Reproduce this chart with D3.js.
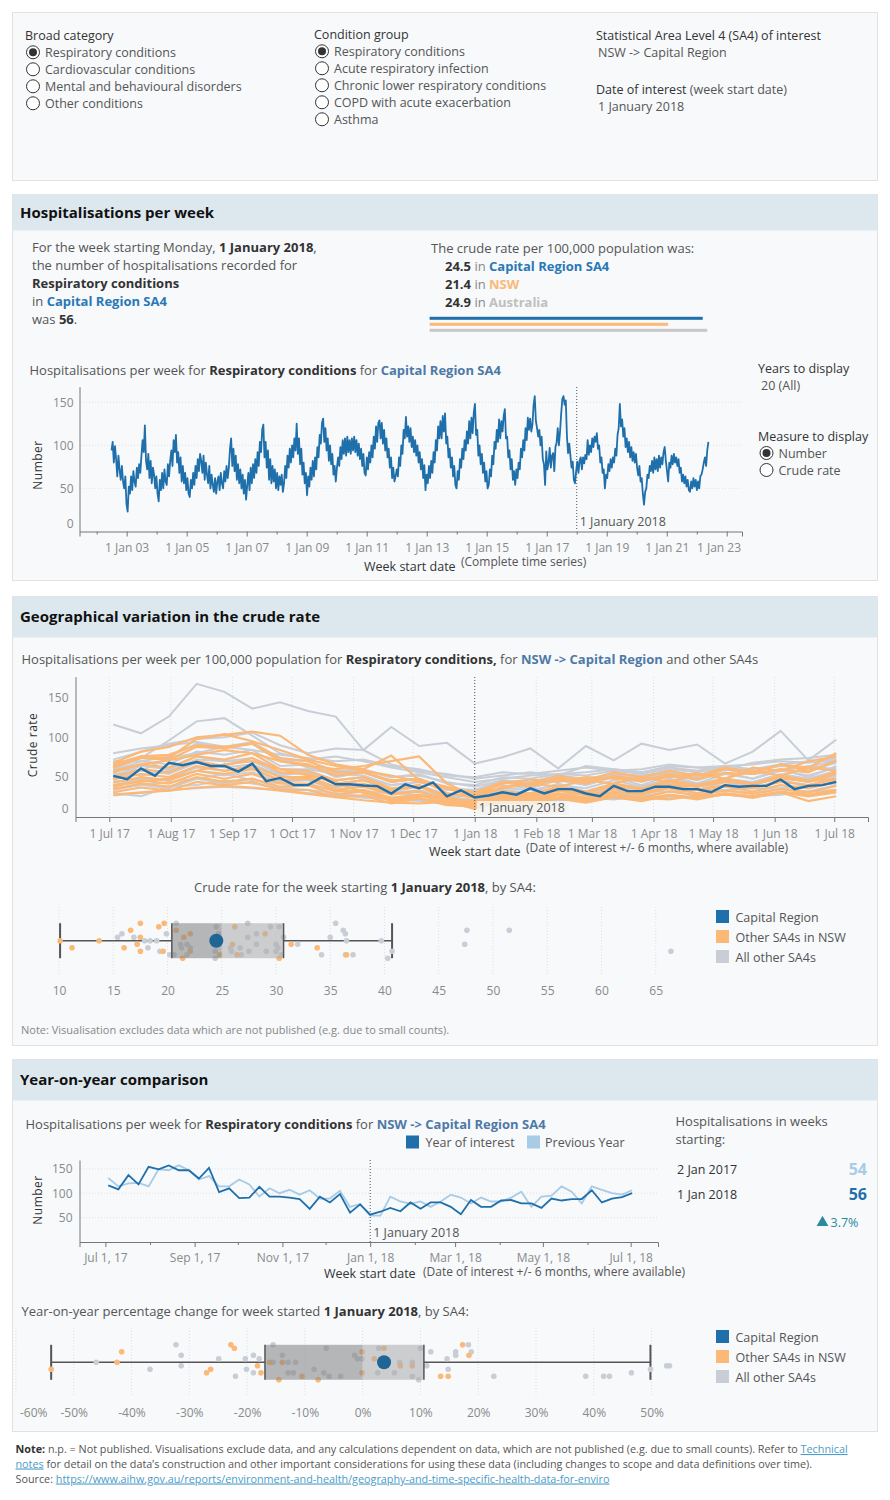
<!DOCTYPE html>
<html>
<head>
<meta charset="utf-8">
<script src="https://d3js.org/d3.v7.min.js"></script>
<style>
  body { margin: 0; background: #fff; }
  svg { display: block; font-family: "Open Sans", Lato, sans-serif; }
</style>
</head>
<body>
<div id="dash"></div>
<script>
// ---------- data ----------
var broadCategories = ["Respiratory conditions", "Cardiovascular conditions", "Mental and behavioural disorders", "Other conditions"];
var conditionGroups = ["Respiratory conditions", "Acute respiratory infection", "Chronic lower respiratory conditions", "COPD with acute exacerbation", "Asthma"];
var measureOptions = ["Number", "Crude rate"];

var crudeRateAreas = ["Capital Region SA4", "NSW", "Australia"];
var crudeRateValues = [24.5, 21.4, 24.9];

// hospitalisations, Capital Region SA4, one value per fortnight from 1 Jul 2002 (one row = Jul..Jun)
var hospStart = new Date(2002, 6, 1);
var hospFortnightly = [
  94, 104, 80, 99, 84, 64, 88, 72, 60, 76, 58, 50, 64, 32, 23, 52, 44, 64, 48, 70, 58, 52, 74, 62, 78, 68,
  88, 106, 92, 123, 82, 72, 90, 62, 82, 56, 74, 66, 50, 64, 44, 35, 60, 48, 68, 50, 72, 58, 54, 78, 64, 82,
  94, 76, 106, 92, 112, 80, 92, 68, 86, 58, 76, 56, 68, 48, 62, 44, 40, 60, 50, 68, 54, 76, 62, 84, 70, 90,
  82, 68, 88, 60, 80, 66, 56, 76, 50, 66, 54, 46, 62, 44, 58, 64, 48, 68, 56, 50, 70, 58, 76, 62, 74, 96,
  108, 76, 96, 70, 88, 60, 78, 56, 72, 50, 66, 44, 60, 37, 54, 68, 48, 74, 56, 78, 62, 84, 68, 92, 76, 104,
  92, 118, 124, 86, 104, 74, 94, 60, 84, 56, 76, 58, 72, 50, 68, 48, 64, 54, 66, 46, 56, 76, 62, 88, 74, 96,
  80, 100, 86, 108, 94, 125, 90, 108, 78, 96, 66, 80, 56, 68, 42, 64, 52, 74, 60, 82, 64, 86, 72, 98, 86, 112,
  102, 126, 131, 104, 120, 94, 108, 82, 100, 78, 90, 66, 76, 58, 74, 86, 76, 98, 84, 106, 90, 108, 88, 110, 92, 106,
  90, 108, 94, 110, 92, 106, 88, 102, 84, 96, 76, 90, 68, 65, 86, 72, 92, 80, 100, 86, 110, 96, 122, 104, 126, 129,
  108, 126, 102, 118, 94, 108, 86, 96, 74, 86, 62, 74, 58, 64, 72, 64, 86, 76, 100, 90, 118, 108, 133, 110, 122, 104,
  120, 98, 110, 92, 106, 88, 100, 80, 92, 72, 84, 62, 77, 48, 66, 56, 76, 62, 82, 68, 92, 80, 106, 94, 122, 108,
  128, 108, 134, 116, 137, 102, 110, 86, 96, 74, 86, 64, 76, 54, 50, 70, 60, 84, 74, 96, 84, 106, 94, 116, 102, 128,
  108, 132, 114, 138, 148, 112, 118, 88, 100, 78, 90, 68, 80, 58, 70, 50, 54, 72, 64, 88, 78, 104, 96, 118, 104, 130,
  108, 128, 116, 134, 142, 108, 110, 86, 94, 72, 84, 60, 70, 54, 72, 62, 80, 72, 96, 86, 106, 94, 120, 106, 132, 118,
  131, 116, 124, 147, 157, 128, 120, 110, 118, 100, 110, 84, 78, 54, 93, 72, 80, 97, 74, 88, 91, 70, 98, 103, 120, 100,
  116, 137, 154, 157, 147, 152, 110, 91, 102, 88, 74, 81, 60, 56, 70, 81, 68, 82, 86, 72, 86, 79, 89, 84, 106, 89,
  100, 92, 108, 98, 110, 104, 114, 96, 100, 80, 86, 68, 72, 50, 66, 62, 78, 70, 84, 74, 86, 80, 96, 88, 112, 120,
  148, 122, 130, 110, 120, 98, 108, 92, 104, 86, 98, 82, 92, 80, 90, 74, 65, 76, 58, 62, 44, 31, 46, 50, 66, 62,
  76, 70, 82, 68, 86, 72, 84, 70, 88, 74, 86, 78, 92, 98, 82, 70, 58, 80, 74, 88, 78, 90, 80, 86, 76, 84,
  68, 74, 58, 66, 56, 64, 52, 60, 48, 46, 58, 50, 62, 52, 60, 48, 58, 50, 64, 66, 72, 80, 86, 76, 94, 104
];

// crude rate, Capital Region, weekly from 3 Jul 2017
var weekStart = new Date(2017, 6, 3);
var capitalRates = [51.6, 47.5, 61, 51.6, 68, 65, 69, 64, 64, 57, 67, 45, 49, 40, 40, 50, 41, 41, 39.6, 38.8,
  29.5, 41, 36, 43.5, 26, 33.5, 24.5, 27, 31, 28, 36, 29.5, 35, 35, 29.5, 26, 39, 32.5, 32.5, 38,
  38, 35, 35, 31, 40, 38, 39, 39, 47, 35, 39, 40, 44];

// crude rate of the other SA4s, fortnightly from 3 Jul 2017
var otherSa4Rates = [
  [116, 105, 126, 167, 157, 136, 144, 133, 126, 84, 113, 89, 93, 67, 75, 86, 61, 89, 71, 92, 84, 91, 67, 82, 108, 71, 97],
  [60, 74, 96, 120, 124, 102, 80, 72, 76, 70, 62, 56, 50, 44, 48, 52, 54, 56, 60, 56, 62, 58, 64, 66, 70, 68, 72],
  [72, 82, 92, 98, 100, 106, 90, 80, 86, 84, 66, 58, 54, 48, 52, 56, 52, 64, 60, 56, 64, 62, 60, 68, 72, 74, 78],
  [70, 70, 76, 92, 88, 92, 72, 70, 58, 60, 50, 54, 42, 40, 50, 48, 54, 52, 58, 54, 60, 56, 62, 58, 64, 62, 72],
  [58, 70, 66, 82, 78, 84, 64, 66, 50, 56, 44, 48, 36, 34, 46, 40, 50, 44, 54, 48, 56, 52, 60, 54, 66, 58, 68],
  [48, 58, 54, 68, 62, 66, 52, 56, 42, 46, 34, 40, 28, 28, 36, 34, 40, 36, 46, 38, 48, 42, 48, 44, 54, 48, 58],
  [40, 48, 46, 58, 52, 56, 44, 46, 34, 40, 30, 34, 24, 22, 32, 26, 36, 30, 36, 32, 40, 34, 44, 36, 46, 40, 50],
  [34, 40, 36, 48, 42, 48, 36, 40, 28, 34, 24, 28, 18, 18, 24, 22, 28, 24, 30, 26, 32, 28, 34, 30, 36, 32, 40],
  [27, 30, 34, 36, 38, 36, 34, 30, 28, 24, 22, 20, 18, 12, 18, 20, 22, 20, 24, 22, 26, 24, 28, 26, 30, 28, 32],
  [62, 58, 74, 80, 88, 94, 74, 62, 56, 58, 50, 52, 44, 38, 46, 44, 52, 48, 54, 52, 56, 50, 60, 54, 58, 64, 60],
  [52, 64, 60, 76, 70, 74, 60, 60, 54, 52, 40, 44, 36, 30, 44, 38, 50, 42, 52, 44, 54, 46, 56, 48, 58, 52, 62],
  [45, 46, 48, 62, 58, 62, 46, 50, 36, 48, 32, 38, 26, 26, 34, 30, 42, 32, 42, 36, 42, 38, 44, 40, 50, 44, 52],
  [36, 40, 44, 48, 54, 46, 42, 40, 34, 32, 30, 28, 26, 20, 26, 28, 28, 30, 30, 32, 32, 34, 34, 36, 36, 40, 42],
  [80, 86, 90, 94, 88, 84, 78, 74, 70, 72, 64, 60, 52, 50, 56, 54, 58, 62, 58, 60, 66, 62, 64, 60, 66, 70, 74],
  [30, 26, 38, 40, 46, 42, 36, 34, 30, 26, 24, 22, 20, 16, 18, 22, 20, 24, 22, 26, 24, 26, 28, 26, 28, 32, 34],
  [55, 52, 58, 72, 70, 70, 54, 58, 46, 50, 40, 44, 34, 34, 40, 36, 46, 40, 50, 40, 52, 42, 54, 48, 60, 50, 64]
];
var otherNswRates = [
  [68, 82, 88, 100, 103, 107, 102, 78, 66, 60, 77, 46, 38, 28, 42, 47, 44, 50, 48, 45, 54, 47, 60, 56, 66, 62, 80],
  [66, 76, 74, 98, 104, 95, 84, 72, 64, 58, 52, 44, 36, 24, 44, 38, 49, 42, 52, 46, 50, 55, 48, 62, 58, 70, 76],
  [62, 74, 72, 88, 86, 92, 70, 66, 52, 56, 44, 48, 30, 24, 36, 42, 38, 46, 42, 50, 44, 54, 48, 58, 52, 62, 58],
  [56, 66, 62, 76, 72, 80, 60, 58, 46, 50, 36, 40, 26, 16, 32, 28, 38, 32, 42, 36, 46, 40, 48, 42, 52, 46, 56],
  [50, 60, 56, 70, 64, 74, 56, 54, 42, 46, 34, 38, 24, 13, 30, 26, 34, 30, 40, 34, 44, 38, 46, 40, 50, 44, 54],
  [47, 54, 50, 64, 58, 64, 50, 50, 38, 42, 30, 32, 22, 20, 28, 24, 33, 27, 35, 30, 38, 34, 40, 36, 44, 40, 47],
  [43, 50, 46, 58, 54, 60, 46, 48, 34, 38, 28, 32, 20, 10, 26, 22, 30, 24, 32, 28, 36, 30, 38, 32, 40, 36, 44],
  [38, 46, 42, 54, 48, 54, 42, 42, 32, 34, 24, 28, 18, 15, 24, 20, 27, 22, 29, 24, 32, 27, 33, 29, 35, 31, 39],
  [35, 42, 38, 50, 44, 48, 38, 40, 28, 32, 20, 24, 16, 12, 22, 18, 24, 20, 26, 22, 28, 24, 30, 26, 32, 28, 34],
  [31, 37, 33, 44, 40, 44, 34, 34, 25, 27, 17, 23, 15, 14, 19, 16, 23, 18, 25, 20, 27, 22, 29, 24, 31, 26, 31],
  [28, 31, 33, 37, 39, 37, 33, 29, 25, 21, 18, 17, 19, 21, 22, 20, 24, 22, 26, 24, 22, 27, 28, 26, 31, 20, 26],
  [64, 76, 78, 90, 88, 92, 74, 70, 56, 56, 46, 48, 36, 31, 44, 42, 52, 46, 56, 50, 58, 52, 62, 56, 66, 58, 70],
  [58, 66, 71, 78, 84, 80, 70, 64, 60, 64, 70, 76, 42, 26, 38, 41, 46, 45, 50, 47, 52, 48, 55, 54, 60, 56, 71],
  [40, 44, 48, 58, 66, 70, 60, 52, 44, 30, 22, 26, 24, 18, 28, 30, 34, 32, 38, 36, 40, 38, 44, 42, 48, 45, 48]
];

// crude rate for week of 1 Jan 2018, by SA4: [value, jitter lane]
var rateNswPoints = [[10.1, 0], [11.2, 2], [13.7, 0], [16.0, 2], [16.6, -3], [17.2, 1], [17.5, -5], [17.5, -1], [17.5, 3],
  [19.2, -4], [19.7, -5], [19.6, 3], [20.8, -3], [21.5, -1], [21.4, 5], [22.1, -2], [22.1, 3], [24.8, 4], [26.2, -4],
  [26.0, 1], [26.4, 4], [29.0, -2], [30.3, 5], [31.4, 1], [33.8, 2], [36.5, 4]];
var rateOtherPoints = [[15.4, -1], [15.8, -2], [16.9, -1], [17.9, 0], [18.4, 0], [18.2, 2], [19.0, 0], [19.3, 3], [19.9, -2],
  [20.2, 4], [20.6, 4], [20.8, -5], [21.2, 1], [21.8, 1], [21.3, 2], [21.8, 4], [22.1, 2], [24.5, -4], [24.7, -2], [24.4, 3],
  [24.4, 5], [25.8, 2], [25.9, 3], [26.7, 2], [26.8, 4], [27.4, -5], [27.4, -1], [27.5, 3], [28.2, 1], [28.2, -2], [29.1, 3],
  [29.5, -4], [30.0, 1], [30.3, -4], [30.0, 3], [30.2, 2], [30.5, 4], [30.7, -1], [32.0, 1], [35.0, -1], [35.5, -5], [36.2, -3],
  [36.4, -2], [36.5, 0], [36.4, 4], [37.1, 4], [34.2, 4], [39.7, 0], [40.3, 5], [40.7, 3], [47.6, -3], [47.4, 1], [51.5, -3], [66.4, 3]];
var rateBoxStats = [10.1, 20.4, 25.0, 30.7, 40.7]; // whisker lo, q1, median, q3, whisker hi
var rateCapital = 24.5;
var rateTicks = [10, 15, 20, 25, 30, 35, 40, 45, 50, 55, 60, 65];

// year-on-year weekly counts, plotted on the weeks from 3 Jul 2017
var yoyCurrent = [116, 108, 137, 118, 154, 149, 157, 147, 147, 130, 152, 102, 110, 90, 91, 113, 93, 93, 91, 88,
  68, 93, 81, 98, 60, 77, 56, 62, 70, 63, 81, 68, 81, 81, 72, 57, 86, 72, 72, 85,
  86, 79, 79, 70, 89, 85, 88, 88, 106, 81, 89, 92, 100];
var yoyPrevious = [131, 114, 120, 121, 114, 149, 147, 157, 147, 128, 135, 114, 114, 128, 118, 93, 110, 100, 107, 97,
  106, 89, 89, 105, 72, 78, 54, 54, 93, 83, 78, 83, 72, 83, 97, 91, 79, 91, 83, 83,
  91, 103, 72, 93, 95, 114, 103, 79, 114, 107, 100, 97, 106];
var yoyWeekLabels = ["2 Jan 2017", "1 Jan 2018"];
var yoyWeekValues = [54, 56];
var yoyChange = 3.7;

// year-on-year % change for week of 1 Jan 2018, by SA4: [value, jitter lane]
var pctNswPoints = [[-53.9, 2], [-42.5, 0], [-41.7, -3], [-27.0, 3], [-26.3, 2], [-22.8, -5], [-22.2, -4], [-18.2, 1],
  [-17.6, 3], [-16.1, 0], [-13.9, 0], [-14.5, 5], [-10.5, 4], [-7.7, 5], [-0.1, -3], [-0.1, 3], [3.7, -4], [2.0, -1],
  [6.5, 1], [8.6, 1], [13.5, 4], [14.8, 4], [17.3, -5], [18.4, -2]];
var pctOtherPoints = [[-46.1, 0], [-36.8, 2], [-32.3, -5], [-31.4, -2], [-31.4, 1], [-24.9, -1], [-22.0, 4], [-20.3, -1],
  [-20.1, 2], [-18.9, -2], [-17.9, -1], [-18.9, 3], [-15.5, -5], [-15.5, 0], [-13.9, -2], [-12.9, 0], [-12.9, 3], [-12.0, 3],
  [-11.6, 0], [-8.4, 2], [-6.3, -4], [-6.7, 3], [-5.8, 4], [-3.8, 4], [-1.4, -2], [-0.9, -1], [-0.1, -1], [2.8, -4], [2.6, 3],
  [5.5, 3], [6.4, 0], [8.6, 0], [8.6, 4], [9.7, 5], [10.0, -4], [11.1, 1], [11.8, -3], [14.6, -1], [14.8, 2], [16.1, -3],
  [16.1, -2], [18.3, -5], [18.8, -3], [22.7, 4], [38.6, 4], [41.7, 4], [42.7, 4], [46.5, 3], [49.8, 2], [52.6, 1], [53.1, 1]];
var pctBoxStats = [-53.9, -16.9, 0.0, 10.6, 49.8];
var pctCapital = 3.7;
var pctTicks = [-60, -50, -40, -30, -20, -10, 0, 10, 20, 30, 40, 50];

var legendLabels = ["Capital Region", "Other SA4s in NSW", "All other SA4s"];

// ---------- colours ----------
var C = {
  dark: "#333", text: "#555", muted: "#888", blue: "#1f6fab", blueTxt: "#2a78b5", steel: "#4e79a7",
  orange: "#fbb877", grey: "#c9ced6", light: "#a8cbe6", panel: "#f7f9fb", head: "#dde8ee", border: "#dfe3e6",
  teal: "#2b8a9e", axis: "#777"
};

var svg = d3.select("#dash").append("svg")
  .attr("width", 890)
  .attr("height", 1500);

// ---------- helpers ----------
function rich(g, x, y, parts, size, anchor) {
  var t = g.append("text")
    .attr("x", x).attr("y", y)
    .attr("text-anchor", anchor || "start")
    .style("font-size", (size || 13) + "px");
  parts.forEach(function(p) {
    var s = t.append("tspan").text(p[0]);
    var st = p[1] || "n";
    if (st == "n") s.attr("fill", C.text);
    if (st == "m") s.attr("fill", C.muted);
    if (st == "d") s.attr("fill", C.dark);
    if (st == "b") s.attr("fill", C.dark).style("font-weight", 700);
    if (st == "bb") s.attr("fill", C.blueTxt).style("font-weight", 700);
    if (st == "sb") s.attr("fill", C.steel).style("font-weight", 700);
    if (st == "ob") s.attr("fill", C.orange).style("font-weight", 700);
    if (st == "gb") s.attr("fill", "#bfbfbf").style("font-weight", 700);
    if (st == "link") s.attr("fill", "#4a9cc9").style("text-decoration", "underline");
    if (st == "s") s.style("font-size", "12px").attr("fill", C.text);
  });
  return t;
}

function panel(y0, y1) {
  svg.append("rect")
    .attr("x", 12.5).attr("y", y0 + 0.5)
    .attr("width", 865).attr("height", y1 - y0)
    .attr("fill", C.panel).attr("stroke", C.border);
}

function header(y0, y1, title) {
  svg.append("rect")
    .attr("x", 12.5).attr("y", y0 + 0.5)
    .attr("width", 865).attr("height", y1 - y0)
    .attr("fill", C.head);
  svg.append("text")
    .attr("x", 20).attr("y", (y0 + y1) / 2 + 5.5)
    .style("font-size", "15px").style("font-weight", 700)
    .attr("fill", "#111")
    .text(title);
}

function radio(g, cx, cy, label, on) {
  g.append("circle").attr("cx", cx).attr("cy", cy).attr("r", 6.5)
    .attr("fill", "#fff").attr("stroke", "#333");
  if (on) g.append("circle").attr("cx", cx).attr("cy", cy).attr("r", 4).attr("fill", "#333");
  rich(g, cx + 12, cy + 4.5, [[label, "n"]], 12.5);
}

function styleAxis(g) {
  g.attr("font-family", "'Open Sans', sans-serif").attr("font-size", 12);
  g.selectAll("path.domain").attr("stroke", C.axis);
  g.selectAll(".tick line").attr("stroke", C.axis);
  g.selectAll(".tick text").attr("fill", "#8a8a8a");
}

// keep end labels inside the plot width
function clampLabels(axisG, lo, hi) {
  axisG.selectAll(".tick").each(function() {
    var tick = d3.select(this);
    var txt = tick.select("text");
    if (txt.empty() || !txt.text()) return;
    var tx = +tick.attr("transform").match(/translate\(([-\d.]+)/)[1];
    var w = txt.node().getComputedTextLength();
    if (tx + w / 2 > hi) txt.attr("x", hi - w / 2 - tx);
    if (tx - w / 2 < lo) txt.attr("x", lo + w / 2 - tx);
  });
}

function yLabel(x, y, label) {
  svg.append("text")
    .attr("transform", "translate(" + x + "," + y + ") rotate(-90)")
    .attr("text-anchor", "middle")
    .style("font-size", "12px").style("letter-spacing", "0.5px")
    .attr("fill", C.dark)
    .text(label);
}

function legend(x, y, colors) {
  legendLabels.forEach(function(lbl, i) {
    svg.append("rect").attr("x", x).attr("y", y + i * 20).attr("width", 13).attr("height", 13).attr("fill", colors[i]);
    rich(svg, x + 19.5, y + i * 20 + 12, [[lbl, "n"]], 12.5);
  });
}

// ---------- filter panel ----------
panel(12, 180);
var filt = svg.append("g");
rich(filt, 25, 39.5, [["Broad category", "d"]], 12.5);
broadCategories.forEach(function(c, i) { radio(filt, 33, 52.3 + i * 17, c, i == 0); });
rich(filt, 314, 38.5, [["Condition group", "d"]], 12.5);
conditionGroups.forEach(function(c, i) { radio(filt, 322, 51.3 + i * 17, c, i == 0); });
rich(filt, 596, 39.5, [["Statistical Area Level 4 (SA4) of interest", "d"]], 12.5);
rich(filt, 598, 56.5, [["NSW -> Capital Region", "n"]], 12.5);
rich(filt, 596, 93.5, [["Date of interest ", "d"], ["(week start date)", "n"]], 12.5);
rich(filt, 598, 110.5, [["1 January 2018", "n"]], 12.5);

// ---------- section: hospitalisations per week ----------
panel(194, 580);
header(194, 230, "Hospitalisations per week");

rich(svg, 32, 252, [["For the week starting Monday, ", "n"], ["1 January 2018", "b"], [",", "n"]]);
rich(svg, 32, 270, [["the number of hospitalisations recorded for", "n"]]);
rich(svg, 32, 288, [["Respiratory conditions", "b"]]);
rich(svg, 32, 305.5, [["in ", "n"], ["Capital Region SA4", "bb"]]);
rich(svg, 32, 323.5, [["was ", "n"], ["56", "b"], [".", "n"]]);

rich(svg, 431, 253, [["The crude rate per 100,000 population was:", "n"]]);
var rateStyles = ["bb", "ob", "gb"];
var rateColors = [C.blue, C.orange, "#c8c8c8"];
crudeRateAreas.forEach(function(a, i) {
  rich(svg, 445, 271 + i * 18, [[crudeRateValues[i].toFixed(1), "b"], [" in ", "m"], [a, rateStyles[i]]]);
});
var xRate = d3.scaleLinear().domain([0, d3.max(crudeRateValues)]).range([429.6, 707.2]);
svg.selectAll("rect.ratebar")
  .data(crudeRateValues)
  .enter()
  .append("rect")
    .attr("class", "ratebar")
    .attr("x", xRate(0))
    .attr("y", function(d, i) { return 316.8 + i * 6; })
    .attr("width", function(d) { return xRate(d) - xRate(0); })
    .attr("height", 3)
    .attr("fill", function(d, i) { return rateColors[i]; });

// time series chart
rich(svg, 29.5, 374.5, [["Hospitalisations per week for ", "n"], ["Respiratory conditions", "b"], [" for ", "n"], ["Capital Region SA4", "sb"]]);

var hospDates = hospFortnightly.map(function(d, i) { return d3.timeDay.offset(hospStart, i * 14); });
var xTs = d3.scaleTime().domain([new Date(2001, 5, 6), new Date(2023, 6, 6)]).range([79.5, 742]);
var yTs = d3.scaleLinear().domain([0, 168]).range([531.5, 386.7]);

svg.append("g").selectAll("line")
  .data([50, 100, 150])
  .enter().append("line")
    .attr("x1", 80).attr("x2", 742)
    .attr("y1", function(d) { return yTs(d); }).attr("y2", function(d) { return yTs(d); })
    .attr("stroke", "#dfe3e6").attr("stroke-dasharray", "1,2");

var tsYAxis = svg.append("g")
  .attr("transform", "translate(79.5,0)")
  .call(d3.axisLeft(yTs).tickValues([0, 50, 100, 150]).tickSize(0).tickPadding(6));
styleAxis(tsYAxis);
tsYAxis.selectAll(".tick text").filter(function(d) { return d == 0; }).attr("dy", "-0.35em");

var fmtDay = d3.timeFormat("%-d %b %y");
var tsXAxis = svg.append("g")
  .attr("transform", "translate(0,531.5)")
  .call(d3.axisBottom(xTs).ticks(d3.timeYear.every(1)).tickSizeOuter(0).tickSize(5).tickPadding(7)
    .tickFormat(function(d) { return d.getFullYear() % 2 == 1 ? fmtDay(d) : ""; }));
styleAxis(tsXAxis);
tsXAxis.selectAll(".tick line").filter(function(d) { return d.getFullYear() % 2 == 0; }).attr("y2", 3);
clampLabels(tsXAxis, 20, 741);

var dateOfInterest = new Date(2018, 0, 1);
svg.append("line")
  .attr("x1", xTs(dateOfInterest)).attr("x2", xTs(dateOfInterest))
  .attr("y1", 387).attr("y2", 531)
  .attr("stroke", "#555").attr("stroke-dasharray", "1,2");
rich(svg, xTs(dateOfInterest) + 3, 525.5, [["1 January 2018", "n"]], 12.5);

var tsLine = d3.line()
  .x(function(d, i) { return xTs(hospDates[i]); })
  .y(function(d) { return yTs(d); });
svg.append("path")
  .datum(hospFortnightly)
  .attr("d", tsLine)
  .attr("fill", "none")
  .attr("stroke", C.blue)
  .attr("stroke-width", 1.8)
  .attr("stroke-linejoin", "round");

yLabel(42, 465, "Number");
rich(svg, 364, 571, [["Week start date", "d"]], 12.5);
rich(svg, 461, 566, [["(Complete time series)", "s"]]);

rich(svg, 758, 372.5, [["Years to display", "d"]], 12.5);
rich(svg, 761, 389.5, [["20 (All)", "n"]], 12.5);
rich(svg, 758, 440.5, [["Measure to display", "d"]], 12.5);
measureOptions.forEach(function(m, i) { radio(svg, 766.5, 453 + i * 17, m, i == 0); });

// ---------- section: geographical variation ----------
panel(596, 1045);
header(596, 637, "Geographical variation in the crude rate");

rich(svg, 21.5, 663.5, [["Hospitalisations per week per 100,000 population for ", "n"], ["Respiratory conditions,", "b"],
  [" for ", "n"], ["NSW -> Capital Region", "sb"], [" and other SA4s", "n"]]);

var geoDates = otherSa4Rates[0].map(function(d, i) { return d3.timeDay.offset(weekStart, i * 14); });
var capDates = capitalRates.map(function(d, i) { return d3.timeDay.offset(weekStart, i * 7); });
var xGeo = d3.scaleTime().domain([new Date(2017, 5, 14), new Date(2018, 6, 18)]).range([75.5, 868]);
var yGeo = d3.scaleLinear().domain([0, 176]).range([817, 676.7]);

svg.append("g").selectAll("line")
  .data(d3.timeMonth.range(new Date(2017, 6, 1), new Date(2018, 6, 2)))
  .enter().append("line")
    .attr("x1", function(d) { return xGeo(d); }).attr("x2", function(d) { return xGeo(d); })
    .attr("y1", 677).attr("y2", 817)
    .attr("stroke", "#dcdfe3").attr("stroke-dasharray", "1,2");

var geoLine = d3.line()
  .x(function(d, i) { return xGeo(geoDates[i]); })
  .y(function(d) { return yGeo(d); });

svg.append("g").selectAll("path")
  .data(otherSa4Rates)
  .enter().append("path")
    .attr("d", geoLine)
    .attr("fill", "none").attr("stroke", C.grey).attr("stroke-width", 2);
svg.append("g").selectAll("path")
  .data(otherNswRates)
  .enter().append("path")
    .attr("d", geoLine)
    .attr("fill", "none").attr("stroke", C.orange).attr("stroke-width", 2.2);
svg.append("path")
  .datum(capitalRates)
  .attr("d", d3.line().x(function(d, i) { return xGeo(capDates[i]); }).y(function(d) { return yGeo(d); }))
  .attr("fill", "none").attr("stroke", C.blue).attr("stroke-width", 2.4);

var geoYAxis = svg.append("g")
  .attr("transform", "translate(75.5,0)")
  .call(d3.axisLeft(yGeo).tickValues([0, 50, 100, 150]).tickSize(0).tickPadding(7));
styleAxis(geoYAxis);
geoYAxis.selectAll(".tick text").filter(function(d) { return d == 0; }).attr("dy", "-0.35em");

var geoXAxis = svg.append("g")
  .attr("transform", "translate(0,817)")
  .call(d3.axisBottom(xGeo).ticks(d3.timeMonth.every(1)).tickSizeOuter(0).tickSize(5).tickPadding(7).tickFormat(fmtDay));
styleAxis(geoXAxis);

svg.append("line")
  .attr("x1", xGeo(dateOfInterest)).attr("x2", xGeo(dateOfInterest))
  .attr("y1", 677).attr("y2", 817)
  .attr("stroke", "#555").attr("stroke-dasharray", "1,2");
svg.append("rect")
  .attr("x", xGeo(dateOfInterest) + 2).attr("y", 801)
  .attr("width", 92).attr("height", 14)
  .attr("fill", "#f5f3ef").attr("opacity", 0.85);
rich(svg, xGeo(dateOfInterest) + 4, 812, [["1 January 2018", "n"]], 12.5);

yLabel(37, 745, "Crude rate");
rich(svg, 429, 856, [["Week start date", "d"]], 12.5);
rich(svg, 526, 852, [["(Date of interest +/- 6 months, where available)", "s"]]);

// ---------- box plots ----------
function boxPlot(cfg) {
  var x = cfg.x, cy = cfg.cy, s = cfg.stats;
  var g = svg.append("g");

  g.selectAll("line.grid")
    .data(cfg.ticks)
    .enter().append("line")
      .attr("x1", function(d) { return x(d); }).attr("x2", function(d) { return x(d); })
      .attr("y1", cfg.gridTop).attr("y2", cfg.gridBottom)
      .attr("stroke", "#dcdfe3").attr("stroke-dasharray", "1,2");

  g.append("line").attr("x1", x(s[0])).attr("x2", x(s[1])).attr("y1", cy).attr("y2", cy).attr("stroke", "#555").attr("stroke-width", 1.5);
  g.append("line").attr("x1", x(s[3])).attr("x2", x(s[4])).attr("y1", cy).attr("y2", cy).attr("stroke", "#555").attr("stroke-width", 1.5);
  [s[0], s[4]].forEach(function(v) {
    g.append("line").attr("x1", x(v)).attr("x2", x(v)).attr("y1", cy - 17.5).attr("y2", cy + 17.5)
      .attr("stroke", "#555").attr("stroke-width", 2);
  });

  var lane = d3.scaleLinear().domain([-5, 5]).range([cy - 17.5, cy + 17.5]);
  g.selectAll("circle.other")
    .data(cfg.other)
    .enter().append("circle")
      .attr("cx", function(d) { return x(d[0]); })
      .attr("cy", function(d) { return lane(d[1]); })
      .attr("r", 2.8).attr("fill", C.grey);
  g.selectAll("circle.nsw")
    .data(cfg.nsw)
    .enter().append("circle")
      .attr("cx", function(d) { return x(d[0]); })
      .attr("cy", function(d) { return lane(d[1]); })
      .attr("r", 2.8).attr("fill", C.orange);

  // box halves sit over the dots, like the source view
  g.append("rect").attr("x", x(s[1])).attr("y", cy - 17.5).attr("width", x(s[2]) - x(s[1])).attr("height", 35)
    .attr("fill", "#7f7f7f").attr("opacity", 0.55);
  g.append("rect").attr("x", x(s[2])).attr("y", cy - 17.5).attr("width", x(s[3]) - x(s[2])).attr("height", 35)
    .attr("fill", "#a9a9a9").attr("opacity", 0.55);
  [s[1], s[3]].forEach(function(v) {
    g.append("line").attr("x1", x(v)).attr("x2", x(v)).attr("y1", cy - 17.5).attr("y2", cy + 17.5)
      .attr("stroke", "#555").attr("stroke-width", 1.5);
  });

  g.append("circle").attr("cx", x(cfg.capital)).attr("cy", cy).attr("r", 7).attr("fill", "#1f6596");

  var ax = g.append("g")
    .attr("transform", "translate(0," + cfg.axisY + ")")
    .call(d3.axisBottom(x).tickValues(cfg.ticks).tickSize(0).tickPadding(0).tickFormat(cfg.format));
  styleAxis(ax);
  ax.select("path.domain").remove();
  clampLabels(ax, 20, 870);
}

rich(svg, 194, 891.5, [["Crude rate for the week starting ", "n"], ["1 January 2018", "b"], [", by SA4:", "n"]]);
boxPlot({
  x: d3.scaleLinear().domain([10, 65]).range([59, 655.7]),
  cy: 940.7, gridTop: 907, gridBottom: 975, axisY: 986,
  stats: rateBoxStats, nsw: rateNswPoints, other: rateOtherPoints, capital: rateCapital,
  ticks: rateTicks, format: function(d) { return d; }
});
legend(716, 910, [C.blue, C.orange, C.grey]);
rich(svg, 21, 1034, [["Note: Visualisation excludes data which are not published (e.g. due to small counts).", "m"]], 11);

// ---------- section: year-on-year ----------
panel(1059, 1431);
header(1059, 1100, "Year-on-year comparison");

rich(svg, 25.5, 1128.5, [["Hospitalisations per week for ", "n"], ["Respiratory conditions", "b"], [" for ", "n"], ["NSW -> Capital Region SA4", "sb"]]);
svg.append("rect").attr("x", 406).attr("y", 1135.5).attr("width", 13).attr("height", 13).attr("fill", C.blue);
rich(svg, 425.5, 1147, [["Year of interest", "n"]], 12.5);
svg.append("rect").attr("x", 527).attr("y", 1135.5).attr("width", 13).attr("height", 13).attr("fill", C.light);
rich(svg, 545, 1147, [["Previous Year", "n"]], 12.5);

var yoyDates = yoyCurrent.map(function(d, i) { return d3.timeDay.offset(weekStart, i * 7); });
var xYoy = d3.scaleTime().domain([new Date(2017, 5, 13), new Date(2018, 6, 20)]).range([79.5, 658]);
var yYoy = d3.scaleLinear().domain([0, 168]).range([1242, 1160]);

svg.append("g").selectAll("line")
  .data([50, 100, 150])
  .enter().append("line")
    .attr("x1", 80).attr("x2", 658)
    .attr("y1", function(d) { return yYoy(d); }).attr("y2", function(d) { return yYoy(d); })
    .attr("stroke", "#dfe3e6").attr("stroke-dasharray", "1,2");

var yoyLine = d3.line()
  .x(function(d, i) { return xYoy(yoyDates[i]); })
  .y(function(d) { return yYoy(d); });
svg.append("path").datum(yoyPrevious).attr("d", yoyLine)
  .attr("fill", "none").attr("stroke", C.light).attr("stroke-width", 1.8);
svg.append("path").datum(yoyCurrent).attr("d", yoyLine)
  .attr("fill", "none").attr("stroke", C.blue).attr("stroke-width", 1.8);

var yoyYAxis = svg.append("g")
  .attr("transform", "translate(79.5,0)")
  .call(d3.axisLeft(yYoy).tickValues([50, 100, 150]).tickSize(0).tickPadding(7));
styleAxis(yoyYAxis);

var fmtYoy = d3.timeFormat("%b %-d, %y");
var yoyXAxis = svg.append("g")
  .attr("transform", "translate(0,1242)")
  .call(d3.axisBottom(xYoy).ticks(d3.timeMonth.every(1)).tickSizeOuter(0).tickSize(5).tickPadding(6)
    .tickFormat(function(d) { return d.getMonth() % 2 == 0 ? fmtYoy(d) : ""; }));
styleAxis(yoyXAxis);
yoyXAxis.selectAll(".tick line").filter(function(d) { return d.getMonth() % 2 == 1; }).attr("y2", 3);

svg.append("line")
  .attr("x1", xYoy(dateOfInterest)).attr("x2", xYoy(dateOfInterest))
  .attr("y1", 1160).attr("y2", 1242)
  .attr("stroke", "#555").attr("stroke-dasharray", "1,2");
rich(svg, xYoy(dateOfInterest) + 3, 1236.5, [["1 January 2018", "n"]], 12.5);

yLabel(42, 1200, "Number");
rich(svg, 324, 1278, [["Week start date", "d"]], 12.5);
rich(svg, 423, 1276, [["(Date of interest +/- 6 months, where available)", "s"]]);

rich(svg, 675.5, 1125.5, [["Hospitalisations in weeks", "n"]]);
rich(svg, 675.5, 1143.5, [["starting:", "n"]]);
var yoyValueColors = [C.light, C.blue];
yoyWeekLabels.forEach(function(lbl, i) {
  rich(svg, 677, 1173.5 + i * 25, [[lbl, "d"]], 12.5);
  svg.append("text")
    .attr("x", 867).attr("y", 1174.5 + i * 25)
    .attr("text-anchor", "end")
    .style("font-size", "16px").style("font-weight", 700)
    .attr("fill", yoyValueColors[i])
    .text(yoyWeekValues[i]);
});
svg.append("path")
  .attr("d", d3.symbol().type(d3.symbolTriangle).size(60)())
  .attr("transform", "translate(822.5,1222.5)")
  .attr("fill", C.teal);
svg.append("text")
  .attr("x", 830.5).attr("y", 1226.5)
  .style("font-size", "12.5px").attr("fill", C.teal)
  .text(yoyChange.toFixed(1) + "%");

rich(svg, 21.5, 1315.5, [["Year-on-year percentage change for week started ", "n"], ["1 January 2018", "b"], [", by SA4:", "n"]]);
boxPlot({
  x: d3.scaleLinear().domain([-60, 50]).range([15.9, 651.6]),
  cy: 1362.3, gridTop: 1328, gridBottom: 1396, axisY: 1408,
  stats: pctBoxStats, nsw: pctNswPoints, other: pctOtherPoints, capital: pctCapital,
  ticks: pctTicks, format: function(d) { return d + "%"; }
});
legend(716, 1330, [C.blue, C.orange, C.grey]);

// ---------- footer ----------
rich(svg, 15.5, 1453, [["Note:", "b"], [" n.p. = Not published. Visualisations exclude data, and any calculations dependent on data, which are not published (e.g. due to small counts). Refer to ", "n"], ["Technical", "link"]], 10.8);
rich(svg, 15.5, 1467.5, [["notes", "link"], [" for detail on the data\u2019s construction and other important considerations for using these data (including changes to scope and data definitions over time).", "n"]], 10.8);
rich(svg, 15.5, 1482.5, [["Source: ", "n"], ["https://www.aihw.gov.au/reports/environment-and-health/geography-and-time-specific-health-data-for-enviro", "link"]], 10.8);
</script>
</body>
</html>
